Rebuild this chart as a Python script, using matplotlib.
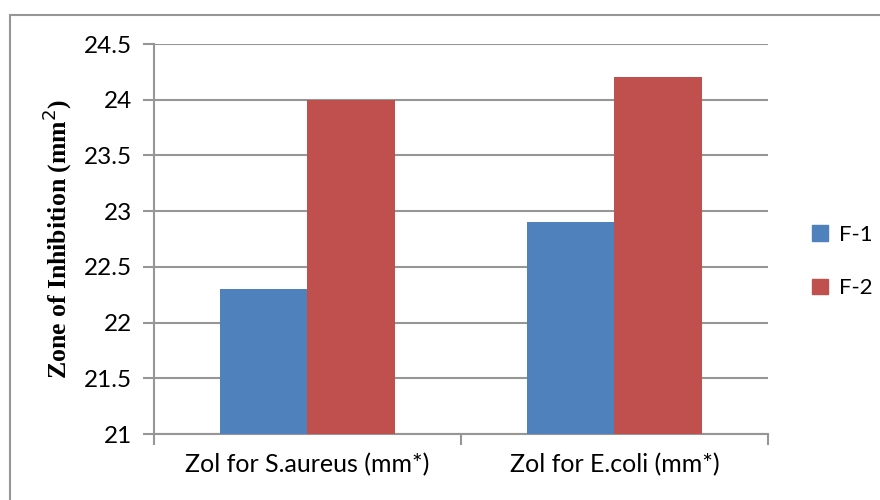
import matplotlib.pyplot as plt
from matplotlib.patches import Rectangle, Patch

# Zone of inhibition for two formulations against two organisms
categories = ['Zol for S.aureus (mm*)', 'Zol for E.coli (mm*)']
series_names = ['F-1', 'F-2']
f1_values = [22.3, 22.9]
f2_values = [24.0, 24.2]
y_ticks = [21, 21.5, 22, 22.5, 23, 23.5, 24, 24.5]

blue = '#4F81BD'
red = '#C0504D'
grid_grey = '#969696'

plt.rcParams['font.family'] = ['Lato', 'DejaVu Sans']

fig = plt.figure(figsize=(8.8, 5), dpi=100)
ax = fig.add_axes([0.175, 0.132, 0.6977, 0.78])

centers = [i + 0.5 for i in range(len(categories))]
width = 0.286
ax.bar([c - width / 2 for c in centers], f1_values, width, bottom=0,
       color=blue, zorder=3, linewidth=0)
ax.bar([c + width / 2 for c in centers], f2_values, width, bottom=0,
       color=red, zorder=3, linewidth=0)

ax.set_ylim(21, 24.5)
ax.set_xlim(0, len(categories))
ax.set_yticks(y_ticks)
ax.set_yticklabels([f'{t:g}' for t in y_ticks], fontsize=17.5)
ax.yaxis.grid(True, color=grid_grey, linewidth=1.5, zorder=0)

# category boundaries as ticks, labels centred between them
ax.set_xticks(range(len(categories) + 1))
ax.set_xticklabels([''] * (len(categories) + 1))
ax.set_xticks(centers, minor=True)
ax.set_xticklabels(categories, minor=True, fontsize=18)
ax.tick_params(axis='x', which='major', direction='out', length=8,
               width=1.5, color=grid_grey)
ax.tick_params(axis='x', which='minor', length=0, pad=14)
ax.tick_params(axis='y', direction='out', length=8, width=1.5,
               color=grid_grey, pad=8)

for side in ['top', 'right']:
    ax.spines[side].set_visible(False)
for side in ['left', 'bottom']:
    ax.spines[side].set_color(grid_grey)
    ax.spines[side].set_linewidth(1.5)

ax.set_ylabel('Zone of Inhibition (mm$^{2}$)', family='Liberation Serif',
              fontweight='bold', fontsize=18.5)
ax.yaxis.set_label_coords(-0.13, 0.5)

handles = [Patch(color=blue), Patch(color=red)]
fig.legend(handles, series_names, loc='center left',
           bbox_to_anchor=(0.9, 0.477), frameon=False, fontsize=16,
           handlelength=0.7, handleheight=0.7, handletextpad=0.5,
           labelspacing=1.5)

# chart area outline
fig.patches.append(Rectangle((10 / 880, -0.01), 1.0, 0.98, transform=fig.transFigure,
                             fill=False, edgecolor=grid_grey, linewidth=1.5))

fig.savefig('out.png', dpi=100)
